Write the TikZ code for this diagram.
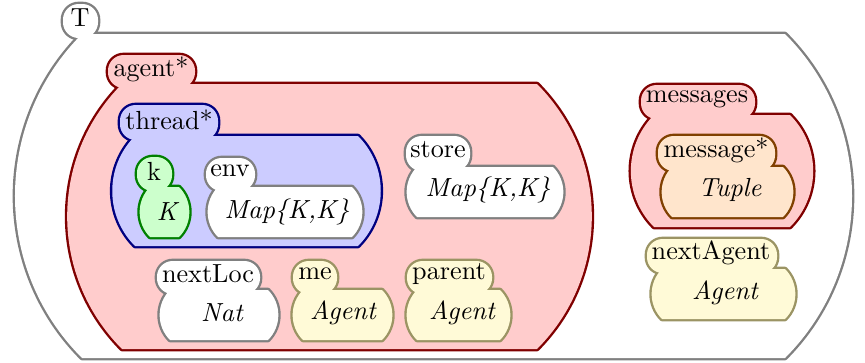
\documentclass[tikz,border=0pt]{standalone}
\usepackage{fontspec}
\definecolor{kgray}{RGB}{128,128,128}
\definecolor{kredline}{RGB}{128,0,0}
\definecolor{kredfill}{RGB}{255,204,204}
\definecolor{kblueline}{RGB}{0,0,128}
\definecolor{kbluefill}{RGB}{204,204,255}
\definecolor{kgreenline}{RGB}{0,128,0}
\definecolor{kgreenfill}{RGB}{204,255,204}
\definecolor{korangeline}{RGB}{128,64,0}
\definecolor{korangefill}{RGB}{255,229,204}
\definecolor{kyellowline}{RGB}{155,148,100}
\definecolor{kyellowfill}{RGB}{255,250,215}
\tikzset{
  cellline/.style={line width=1.8pt, line join=round},
  tabshape/.style={rounded corners=6pt},
  celllabel/.style={inner sep=0pt},
  sortlabel/.style={inner sep=0pt, font=\itshape},
}
% A configuration cell: #1 line colour, #2 fill colour, #3/#4 tab corners,
% #5..#8 body corners (top-left, top-right, bottom-right, bottom-left).
% Outlines are stroked at double width first, then both parts are filled,
% so only the outer half of the stroke of their union remains.
\newcommand\kcell[8]{%
  \path[draw=#1, cellline, tabshape] #3 rectangle #4;
  \path[draw=#1, cellline] #5 -- #6 to[bend left=45] #7 -- #8 to[bend left=45] #5 -- cycle;
  \path[fill=#2, tabshape] #3 rectangle #4;
  \path[fill=#2] #5 -- #6 to[bend left=45] #7 -- #8 to[bend left=45] #5 -- cycle;
}
\begin{document}
\begin{tikzpicture}[x=0.382pt, y=-0.382pt]
\useasboundingbox (0,0) rectangle (865,362);

% top cell
\kcell{kgray}{white}{(63,4)}{(98,38)}{(82,34)}{(785,34)}{(785,358)}{(82,358)}
\node[celllabel] (T) at (80,18) {T};

% agent*
\kcell{kredline}{kredfill}{(108,55)}{(195,88)}{(122,84)}{(537,84)}{(537,349)}{(122,349)}
\node[celllabel] (agent) at (151,69) {agent*};

% thread*
\kcell{kblueline}{kbluefill}{(120,105)}{(218,140)}{(135,136)}{(358,136)}{(358,246)}{(135,246)}
\node[celllabel] (thread) at (169,120) {thread*};

% k
\kcell{kgreenline}{kgreenfill}{(137,157)}{(172,191)}{(150,187)}{(179,187)}{(179,237)}{(150,237)}
\node[celllabel] (k) at (154,171) {k};
\node[sortlabel] (kSort) at (167,212) {K};

% env
\kcell{kgray}{white}{(206,158)}{(255,191)}{(218,187)}{(352,187)}{(352,237)}{(218,237)}
\node[celllabel] (env) at (230,171) {env};
\node[sortlabel] (envSort) at (287,212) {Map\{K,K\}};

% store
\kcell{kgray}{white}{(406,136)}{(470,171)}{(417,167)}{(553,167)}{(553,217)}{(417,217)}
\node[celllabel] (store) at (438,150) {store};
\node[sortlabel] (storeSort) at (488,190) {Map\{K,K\}};

% nextLoc
\kcell{kgray}{white}{(157,261)}{(260,294)}{(170,290)}{(268,290)}{(268,340)}{(170,340)}
\node[celllabel] (nextLoc) at (208,274) {nextLoc};
\node[sortlabel] (nextLocSort) at (222,313) {Nat};

% me
\kcell{kyellowline}{kyellowfill}{(293,261)}{(337,294)}{(303,290)}{(382,290)}{(382,340)}{(303,340)}
\node[celllabel] (me) at (315,274) {me};
\node[sortlabel] (meSort) at (343,313) {Agent};

% parent
\kcell{kyellowline}{kyellowfill}{(407,261)}{(492,294)}{(417,290)}{(500,290)}{(500,340)}{(417,340)}
\node[celllabel] (parent) at (449,274) {parent};
\node[sortlabel] (parentSort) at (462,313) {Agent};

% messages
\kcell{kredline}{kredfill}{(641,85)}{(755,119)}{(654,115)}{(790,115)}{(790,227)}{(654,227)}
\node[celllabel] (messages) at (697,99) {messages};

% message*
\kcell{korangeline}{korangefill}{(658,136)}{(775,171)}{(672,167)}{(783,167)}{(783,217)}{(672,217)}
\node[celllabel] (message) at (716,150) {message*};
\node[sortlabel] (messageSort) at (730,190) {Tuple};

% nextAgent
\kcell{kyellowline}{kyellowfill}{(647,239)}{(777,273)}{(662,269)}{(785,269)}{(785,319)}{(662,319)}
\node[celllabel] (nextAgent) at (711,253) {nextAgent};
\node[sortlabel] (nextAgentSort) at (725,293) {Agent};
\end{tikzpicture}
\end{document}
